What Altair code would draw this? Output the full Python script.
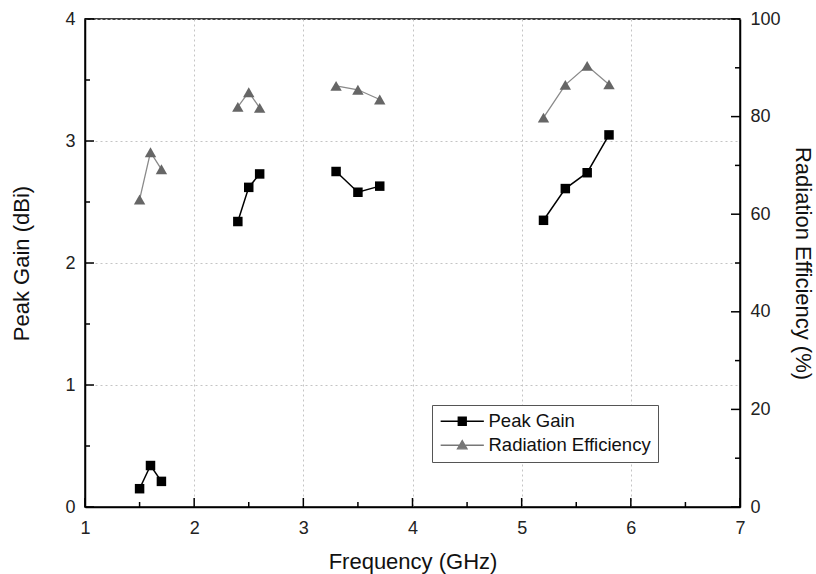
import altair as alt
import pandas as pd

# ---- data ----
freq = [1.5, 1.6, 1.7, 2.4, 2.5, 2.6, 3.3, 3.5, 3.7, 5.2, 5.4, 5.6, 5.8]
band = ["B1", "B1", "B1", "B2", "B2", "B2", "B3", "B3", "B3", "B4", "B4", "B4", "B4"]
peak_gain = [0.15, 0.34, 0.21, 2.34, 2.62, 2.73, 2.75, 2.58, 2.63, 2.35, 2.61, 2.74, 3.05]
rad_eff = [63.0, 72.7, 69.2, 82.0, 85.0, 81.8, 86.3, 85.5, 83.5, 79.8, 86.5, 90.4, 86.6]

series_names = ["Peak Gain", "Radiation Efficiency"]
series_colors = ["#000000", "#777777"]

x_major = [1, 2, 3, 4, 5, 6, 7]
x_minor = [1.5, 2.5, 3.5, 4.5, 5.5, 6.5]
gain_major = [0, 1, 2, 3, 4]
gain_minor = [0.5, 1.5, 2.5, 3.5]
eff_major = [0, 20, 40, 60, 80, 100]
eff_minor = [10, 30, 50, 70, 90]

W, H = 655, 488
FONT = "Liberation Sans"
NBSP = "\u00a0"

df = pd.DataFrame({"freq": freq, "band": band, "gain": peak_gain, "eff": rad_eff})
leg_df = pd.DataFrame({"series": series_names})

x_scale = alt.Scale(domain=[1, 7], nice=False, zero=False)
x_axis = alt.Axis(
    values=sorted(x_major + x_minor), format="d",
    labelExpr="datum.value % 1 === 0 ? datum.label : ''",
    title="Frequency (GHz)",
    grid=True, ticks=False, labelFlush=False, labelOverlap=False,
    labelPadding=12, titlePadding=14,
)
gain_scale = alt.Scale(domain=[0, 4], nice=False, zero=False)
gain_axis = alt.Axis(
    values=sorted(gain_major + gain_minor), format="d",
    labelExpr="datum.value % 1 === 0 ? datum.label : ''",
    title="Peak Gain (dBi)", orient="left",
    grid=True, ticks=False, labelFlush=False, labelOverlap=False,
    labelPadding=10, titlePadding=31,
)
eff_scale = alt.Scale(domain=[0, 100], nice=False, zero=False)
eff_axis = alt.Axis(
    values=eff_major, title="Radiation Efficiency (%)", orient="right",
    grid=False, ticks=False, labelFlush=False, labelOverlap=False,
    labelPadding=10, titlePadding=10,
)

X = alt.X("freq:Q", scale=x_scale, axis=x_axis)
YG = alt.Y("gain:Q", scale=gain_scale, axis=gain_axis)
YE = alt.Y("eff:Q", scale=eff_scale, axis=eff_axis)

gain_line = alt.Chart(df).mark_line(color="#000000", strokeWidth=1.5).encode(
    x=X, y=YG, detail="band:N")
gain_pts = alt.Chart(df).mark_point(shape="square", filled=True, size=90, color="#000000", opacity=1).encode(
    x=X, y=YG)

leg = alt.Legend(
    title=None, orient="none", legendX=347, legendY=386,
    strokeColor="#555555", fillColor="#ffffff", padding=7,
    labelFont=FONT, labelFontSize=18.5, labelColor="#111111", labelLimit=400,
    labelExpr="datum.label + '" + NBSP * 3 + "'",
    symbolSize=256, symbolStrokeWidth=1.3, symbolOpacity=1,
    symbolOffset=14, rowPadding=5, labelOffset=17,
)
sym_paths = [
    "M-2.7,0H2.7M-0.5,-0.5H0.5V0.5H-0.5Z",
    "M-2.7,0H2.7M0,-0.6L0.6,0.45L-0.6,0.45Z",
]
legend_layer = alt.Chart(leg_df).mark_point(filled=True, opacity=0).encode(
    color=alt.Color("series:N", scale=alt.Scale(domain=series_names, range=series_colors), legend=leg),
    stroke=alt.Stroke("series:N", scale=alt.Scale(domain=series_names, range=series_colors), legend=leg),
    shape=alt.Shape("series:N", scale=alt.Scale(domain=series_names, range=sym_paths), legend=leg),
)

def vticks(vals, length):
    return alt.Chart(pd.DataFrame({"freq": vals})).mark_rule(color="#000000", strokeWidth=1.5).encode(
        x=X, y=alt.value(H), y2=alt.value(H - length))

def hticks(vals, field, Y, length, right=False):
    x0 = W if right else 0
    x1 = W - length if right else length
    return alt.Chart(pd.DataFrame({field: vals})).mark_rule(color="#000000", strokeWidth=1.5).encode(
        y=Y, x=alt.value(x0), x2=alt.value(x1))

left = alt.layer(
    gain_line, gain_pts,
    vticks(x_major, 9), vticks(x_minor, 5),
    hticks(gain_major, "gain", YG, 9), hticks(gain_minor, "gain", YG, 5),
    legend_layer,
)

eff_line = alt.Chart(df).mark_line(color="#8a8a8a", strokeWidth=1.3).encode(
    x=X, y=YE, detail="band:N")
eff_pts = alt.Chart(df).mark_point(shape="triangle-up", filled=True, size=130, color="#666666", opacity=1).encode(
    x=X, y=YE)

right = alt.layer(
    eff_line, eff_pts,
    hticks(eff_major, "eff", YE, 9, right=True), hticks(eff_minor, "eff", YE, 5, right=True),
)

chart = alt.layer(left, right).resolve_scale(y="independent").properties(
    width=W, height=H,
    autosize=alt.AutoSizeParams(type="none"),
    padding={"left": 85, "top": 19, "right": 76, "bottom": 67},
    background="#ffffff",
).configure_view(
    stroke="#000000", strokeWidth=1.5
).configure_axis(
    labelFont=FONT, titleFont=FONT, labelFontSize=18, titleFontSize=22,
    titleFontWeight="normal", labelColor="#222222", titleColor="#111111",
    domainColor="#000000", domainWidth=1.5,
    gridColor="#c4c4c4", gridDash=[2, 3], gridWidth=1,
)

chart.save("out.html", embed_options={"renderer": "svg", "actions": False})
